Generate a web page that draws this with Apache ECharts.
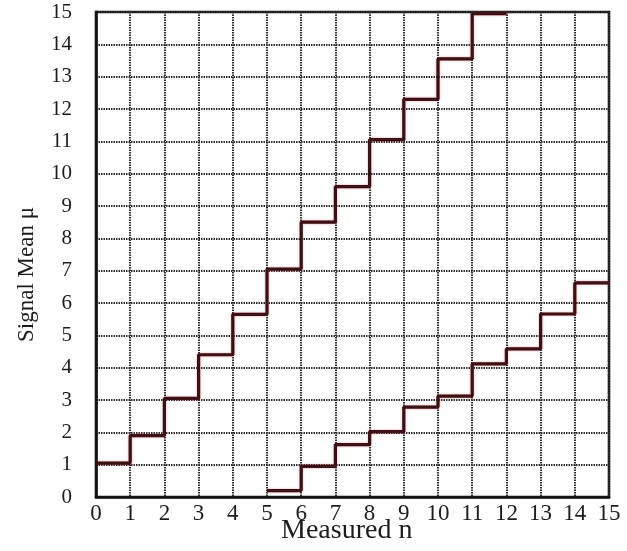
<!DOCTYPE html>
<html>
<head>
<meta charset="utf-8">
<script src="https://cdn.jsdelivr.net/npm/echarts@6/dist/echarts.min.js"></script>
<style>
  html, body { margin: 0; padding: 0; background: #fff; }
  #chart { width: 627px; height: 551px; }
</style>
</head>
<body>
<div id="chart"></div>
<script>
// Confidence belt: for each measured count n, the upper and lower
// limits on the signal mean, drawn as step segments from n to n+1.
const upperStart = 0;
const upperLimits = [1.05, 1.9, 3.05, 4.4, 5.65, 7.05, 8.5, 9.6, 11.05, 12.3, 13.55, 14.95];
const lowerStart = 5;
const lowerLimits = [0.2, 0.95, 1.62, 2.02, 2.78, 3.12, 4.12, 4.58, 5.66, 6.62];
const xTicks = [0, 1, 2, 3, 4, 5, 6, 7, 8, 9, 10, 11, 12, 13, 14, 15];
const yTicks = [0, 1, 2, 3, 4, 5, 6, 7, 8, 9, 10, 11, 12, 13, 14, 15];

// Turn a list of segment heights into step points (horizontal first, then rise).
function stepPoints(start, values) {
  const pts = values.map((v, i) => [start + i, v]);
  pts.push([start + values.length, values[values.length - 1]]);
  return pts;
}

const serif = '"Liberation Serif", "DejaVu Serif", serif';
const ink = '#1c1c1c';
const gridLine = { color: '#2e2e2e', width: 2, type: [1.5, 1] };
const curveStyle = {
  color: '#3a1216',
  width: 3.2,
  shadowColor: 'rgba(210, 30, 40, 0.55)',
  shadowBlur: 2
};

const chart = echarts.init(document.getElementById('chart'), null, { renderer: 'canvas' });
chart.setOption({
  backgroundColor: '#ffffff',
  animation: false,
  grid: {
    left: 96, right: 18, top: 12, bottom: 54,
    show: true, borderColor: '#111', borderWidth: 2.6
  },
  xAxis: {
    type: 'value',
    min: xTicks[0], max: xTicks[xTicks.length - 1], interval: 1,
    axisLine: { show: true, lineStyle: { color: '#111', width: 2.6 } },
    axisTick: { show: false },
    splitLine: { show: true, lineStyle: gridLine },
    axisLabel: {
      fontFamily: serif, fontSize: 23, color: ink, margin: 5,
      formatter: v => xTicks.includes(v) ? String(v) : ''
    }
  },
  yAxis: {
    type: 'value',
    min: yTicks[0], max: yTicks[yTicks.length - 1], interval: 1,
    axisLine: { show: true, lineStyle: { color: '#111', width: 2.6 } },
    axisTick: { show: false },
    splitLine: { show: true, lineStyle: gridLine },
    axisLabel: {
      fontFamily: serif, fontSize: 21, color: ink, margin: 24,
      formatter: v => yTicks.includes(v) ? String(v) : ''
    }
  },
  graphic: [
    {
      type: 'text', left: 281, top: 517,
      style: { text: 'Measured n', font: '28px ' + serif, fill: ink }
    },
    {
      type: 'text',
      x: 15, y: 342, rotation: Math.PI / 2,
      style: { text: 'Signal Mean μ', font: '23px ' + serif, fill: ink,
               textAlign: 'left', textVerticalAlign: 'top' }
    }
  ],
  series: [
    {
      name: 'upper', type: 'line', step: 'end', symbol: 'none',
      data: stepPoints(upperStart, upperLimits),
      lineStyle: curveStyle, z: 5
    },
    {
      name: 'lower', type: 'line', step: 'end', symbol: 'none',
      data: stepPoints(lowerStart, lowerLimits),
      lineStyle: curveStyle, z: 5
    }
  ]
});
</script>
</body>
</html>
